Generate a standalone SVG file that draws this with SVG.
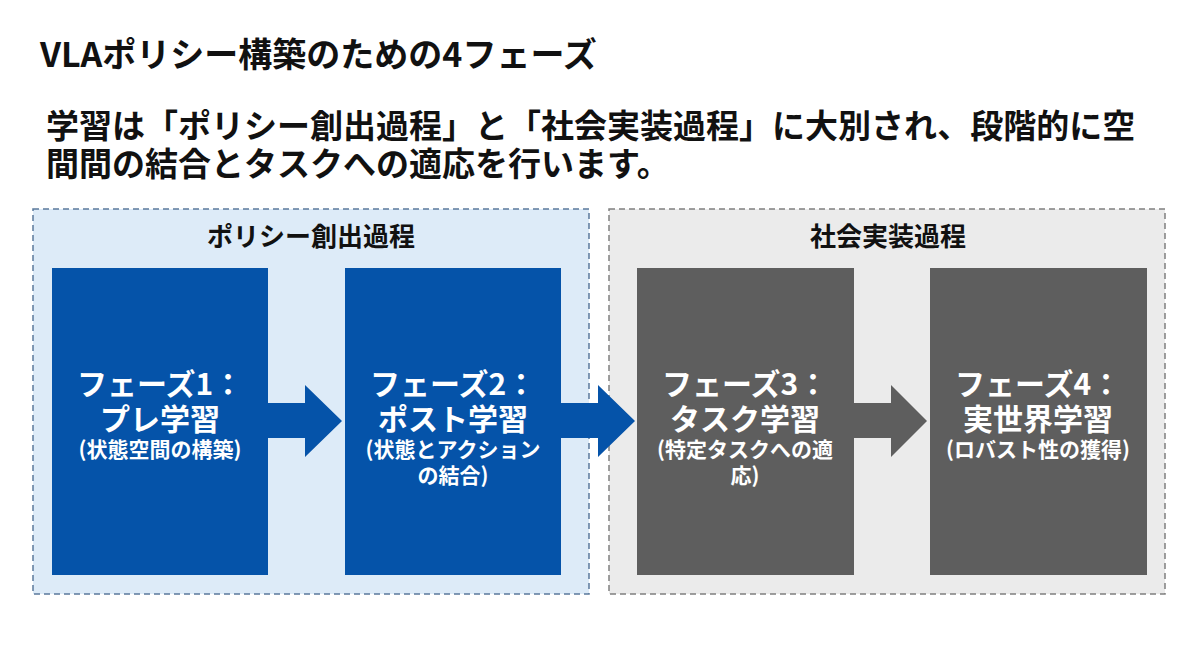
<svg xmlns="http://www.w3.org/2000/svg" width="1200" height="670" viewBox="0 0 1200 670">
<style>
text{font-family:"Noto Sans CJK JP","Noto Sans",sans-serif;font-weight:bold}
.h{font-size:34px;fill:#111}
.sub{font-size:33px;fill:#111}
.gt{font-size:26px;fill:#111;text-anchor:middle}
.nt{font-size:30px;fill:#fff;text-anchor:middle}
.ns{font-size:21px;fill:#fff;text-anchor:middle}
.blue{fill:#0553A9}
.gray{fill:#5E5E5E}
</style>
<rect width="1200" height="670" fill="#ffffff"/>
<text class="h" x="40" y="67">VLAポリシー構築のための4フェーズ</text>
<text class="sub" x="46" y="138">学習は「ポリシー創出過程」と「社会実装過程」に大別され、段階的に空</text>
<text class="sub" x="46" y="176">間間の結合とタスクへの適応を行います。</text>

<g id="group-policy">
<rect x="33" y="209" width="556" height="385" fill="#DDEBF8" stroke="#5B7A9C" stroke-width="1.5" stroke-dasharray="6,4"/>
<text class="gt" x="311" y="246">ポリシー創出過程</text>
</g>
<g id="group-social">
<rect x="609" y="209" width="556" height="385" fill="#EBEBEB" stroke="#808080" stroke-width="1.5" stroke-dasharray="6,4"/>
<text class="gt" x="888" y="246">社会実装過程</text>
</g>

<g id="node-phase1">
<rect class="blue" x="52" y="268" width="216" height="307"/>
<text class="nt" x="160" y="395">フェーズ1：</text>
<text class="nt" x="160" y="430">プレ学習</text>
<text class="ns" x="160" y="457">(状態空間の構築)</text>
</g>
<g id="node-phase2">
<rect class="blue" x="345" y="268" width="216" height="307"/>
<text class="nt" x="453" y="395">フェーズ2：</text>
<text class="nt" x="453" y="430">ポスト学習</text>
<text class="ns" x="453" y="457">(状態とアクション</text>
<text class="ns" x="453" y="483">の結合)</text>
</g>
<g id="node-phase3">
<rect class="gray" x="637" y="268" width="217" height="307"/>
<text class="nt" x="745" y="395">フェーズ3：</text>
<text class="nt" x="745" y="430">タスク学習</text>
<text class="ns" x="745" y="457">(特定タスクへの適</text>
<text class="ns" x="745" y="483">応)</text>
</g>
<g id="node-phase4">
<rect class="gray" x="930" y="268" width="217" height="307"/>
<text class="nt" x="1038" y="395">フェーズ4：</text>
<text class="nt" x="1038" y="430">実世界学習</text>
<text class="ns" x="1038" y="457">(ロバスト性の獲得)</text>
</g>

<g id="connectors">
<polygon class="blue" points="268,403 305,403 305,385 342,421 305,457 305,438 268,438"/>
<polygon class="blue" points="561,403 598,403 598,385 635,421 598,457 598,438 561,438"/>
<polygon class="gray" points="854,403 891,403 891,385 927,421 891,457 891,438 854,438"/>
</g>
</svg>
